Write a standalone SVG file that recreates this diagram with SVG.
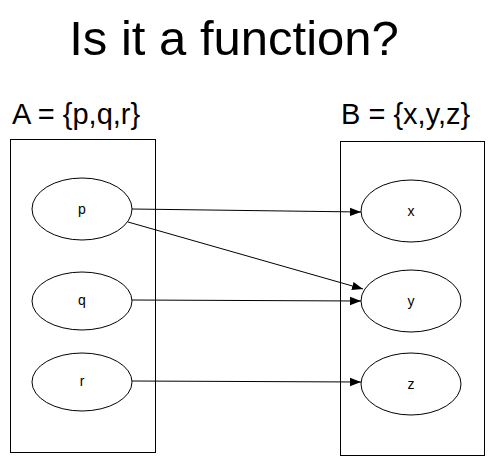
<svg xmlns="http://www.w3.org/2000/svg" width="494" height="457" viewBox="0 0 494 457">
<style>
.box{fill:none;stroke:#000;stroke-width:1}
.node ellipse{fill:#fff;stroke:#000;stroke-width:1}
.lbl{font-family:"Liberation Sans",Arial,sans-serif;font-size:14px;text-anchor:middle;fill:#000}
.set{font-family:"Liberation Sans",Arial,sans-serif;font-size:29px;fill:#000}
.title{font-family:"Liberation Sans",Arial,sans-serif;font-size:49px;text-anchor:middle;fill:#000}
.edge{stroke:#000;stroke-width:1;fill:none;marker-end:url(#ah)}
</style>
<defs>
<marker id="ah" viewBox="0 0 10 10" refX="10" refY="5" markerWidth="11" markerHeight="11" markerUnits="userSpaceOnUse" orient="auto">
<path d="M0,1.2 L10,5 L0,8.8 z" fill="#000"/>
</marker>
</defs>
<rect width="494" height="457" fill="#fff"/>
<text class="title" x="234" y="55">Is it a function?</text>
<text class="set" x="12" y="124">A = {p,q,r}</text>
<text class="set" x="341" y="124">B = {x,y,z}</text>
<g id="setA"><rect class="box" x="10.5" y="139.5" width="145" height="313"/></g>
<g id="setB"><rect class="box" x="340.5" y="141.5" width="144" height="314"/></g>
<g id="p" class="node"><ellipse cx="82" cy="209" rx="50" ry="31"/><text class="lbl" x="82" y="214">p</text></g>
<g id="q" class="node"><ellipse cx="82" cy="301" rx="50" ry="29"/><text class="lbl" x="82" y="305">q</text></g>
<g id="r" class="node"><ellipse cx="82" cy="382" rx="50" ry="29"/><text class="lbl" x="82" y="386">r</text></g>
<g id="x" class="node"><ellipse cx="411" cy="211" rx="50" ry="31"/><text class="lbl" x="411" y="216">x</text></g>
<g id="y" class="node"><ellipse cx="411" cy="301" rx="50" ry="31"/><text class="lbl" x="411" y="306">y</text></g>
<g id="z" class="node"><ellipse cx="411" cy="384" rx="50" ry="31"/><text class="lbl" x="411" y="389">z</text></g>
<g id="connectors">
<line class="edge" x1="132" y1="209" x2="361" y2="212"/>
<line class="edge" x1="128" y1="222" x2="363" y2="289"/>
<line class="edge" x1="132" y1="300" x2="361" y2="301"/>
<line class="edge" x1="132" y1="381" x2="361" y2="382"/>
</g>
</svg>
